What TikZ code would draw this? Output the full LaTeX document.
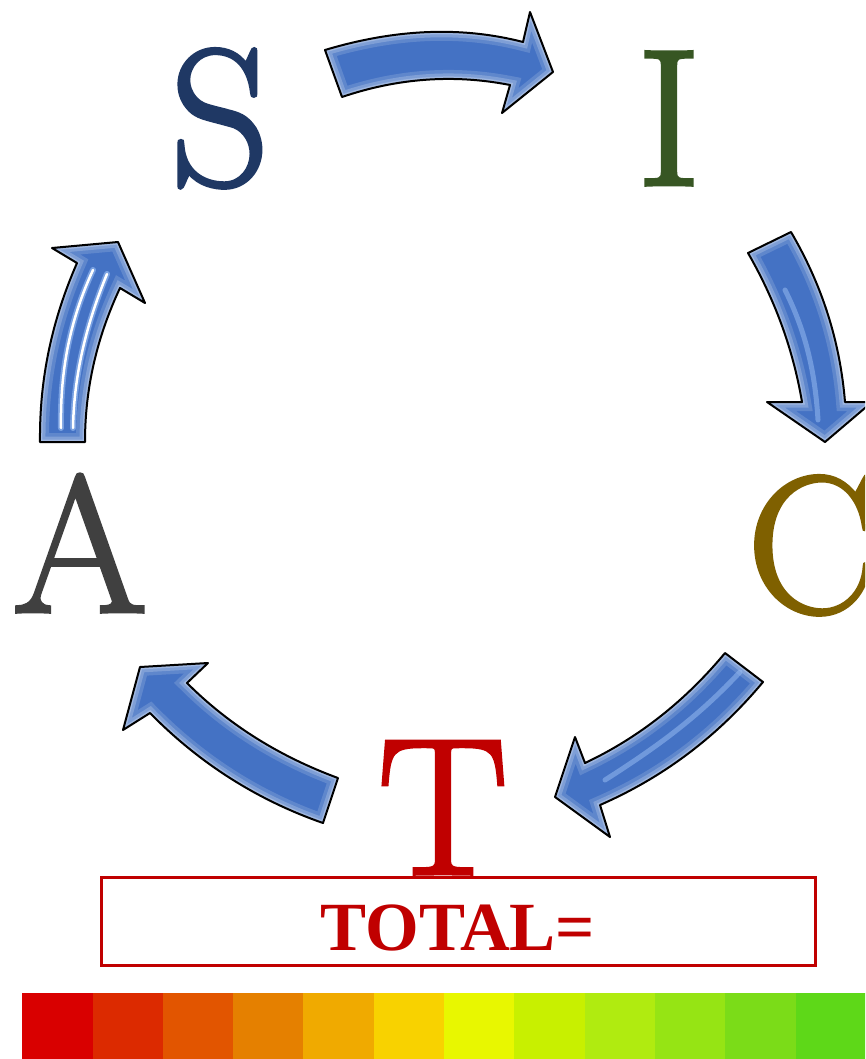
\documentclass[tikz,border=0pt]{standalone}
\usepackage{fontspec}
\newfontfamily\totalfont{Liberation Serif}
\newcommand{\heavy}[1]{\special{pdf:literal direct q 2 Tr 3.5 w 0 j}#1\special{pdf:literal direct Q 0 Tr}}
\definecolor{sblue}{HTML}{1F3864}
\definecolor{igreen}{HTML}{375623}
\definecolor{cbrown}{HTML}{7F6000}
\definecolor{agray}{HTML}{404040}
\definecolor{tred}{HTML}{C00000}
\definecolor{arrowblue}{HTML}{4472C4}
\definecolor{lightblue}{HTML}{9CC0F5}
\definecolor{b1}{HTML}{D90000}
\definecolor{b2}{HTML}{DC2A00}
\definecolor{b3}{HTML}{E25500}
\definecolor{b4}{HTML}{E58000}
\definecolor{b5}{HTML}{F0AA00}
\definecolor{b6}{HTML}{F8D200}
\definecolor{b7}{HTML}{E8F700}
\definecolor{b8}{HTML}{C8F000}
\definecolor{b9}{HTML}{B0EB10}
\definecolor{b10}{HTML}{96E414}
\definecolor{b11}{HTML}{7BDC18}
\definecolor{b12}{HTML}{5ED818}
\newcommand{\arrSI}{(325,50) .. controls (395,29) and (461,26) .. (523,42) -- (530,12) -- (553,72) -- (502,113) -- (510,85) .. controls (454,74) and (398,78) .. (342,97) -- cycle}
\newcommand{\arrIC}{(748,253) .. controls (775,300) and (793,349) .. (802,402) -- (767,402) -- (825,442) -- (872,402) -- (845,402) .. controls (840,341) and (822,285) .. (791,232) -- cycle}
\newcommand{\arrCT}{(725,653) .. controls (686,700) and (640,737) .. (585,763) -- (575,737) -- (555,797) -- (610,837) -- (600,805) .. controls (664,777) and (718,736) .. (763,682) -- cycle}
\newcommand{\arrTA}{(338,778) .. controls (281,757) and (230,726) .. (187,683) -- (208,663) -- (140,667) -- (123,730) -- (150,713) .. controls (199,763) and (257,800) .. (323,823) -- cycle}
\newcommand{\arrAS}{(40,442) .. controls (39.3,379) and (52,320) .. (77,263) -- (52,248) -- (118,242) -- (145,303) -- (120,288) .. controls (97,337) and (85,388) .. (85,442) -- cycle}
\newcommand{\glossyarrow}[1]{%
  \fill[arrowblue] #1;
  \begin{scope}
    \clip #1;
    \draw[white, opacity=0.15, line width=18pt] #1;
    \draw[white, opacity=0.2, line width=11pt] #1;
    \draw[white, opacity=0.25, line width=5pt] #1;
  \end{scope}
  \draw[black, line width=2pt, line join=round] #1;
}
\begin{document}
\begin{tikzpicture}[x=1pt,y=-1pt,
  bigletter/.style={inner sep=0pt, anchor=base, font=\fontsize{195}{195}\selectfont},
  barseg/.style={inner sep=0pt, minimum width=70.5pt, minimum height=66pt, anchor=north west}]
\useasboundingbox (0,0) rectangle (865,1059);
\clip (0,0) rectangle (865,1059);
\fill[white] (0,0) rectangle (865,1059);
% arrows
\glossyarrow{\arrSI}
\glossyarrow{\arrIC}
\glossyarrow{\arrCT}
\glossyarrow{\arrTA}
\glossyarrow{\arrAS}
% highlights
\draw[lightblue, opacity=0.6, line width=6pt, line cap=round] (93,270) .. controls (70,320) and (60,370) .. (61,428);
\draw[white, line width=2.5pt, line cap=round] (93,270) .. controls (70,320) and (60,370) .. (61,428);
\draw[lightblue, opacity=0.6, line width=6pt, line cap=round] (107,274) .. controls (86,325) and (74,375) .. (73,428);
\draw[white, line width=2.5pt, line cap=round] (107,274) .. controls (86,325) and (74,375) .. (73,428);
\draw[lightblue, opacity=0.5, line width=5pt, line cap=round] (785,290) .. controls (805,330) and (815,370) .. (818,420);
\draw[lightblue, opacity=0.5, line width=5pt, line cap=round] (740,672) .. controls (700,715) and (660,745) .. (605,780);
% letters
\node[bigletter, text=sblue] (S) at (220,185) {\heavy{S}};
\node[bigletter, text=igreen] (I) at (669,185) {\heavy{I}};
\node[bigletter, text=cbrown] (C) at (812,612) {\heavy{C}};
\node[bigletter, text=agray] (A) at (80,612) {\heavy{A}};
\node[bigletter, text=tred] (T) at (443,874) {\heavy{T}};
% total box
\node[draw=tred, line width=3pt, fill=white, minimum width=714pt, minimum height=88pt, inner sep=0pt] (box) at (458,921) {};
\node[inner sep=0pt, anchor=base, text=tred, font=\totalfont\bfseries\fontsize{69}{69}\selectfont] (total) at (458,950) {TOTAL=};
% colour bar
\foreach \i in {1,...,12} {
  \node[barseg, fill=b\i] (seg\i) at ({22+70.3*(\i-1)},993) {};
}
\end{tikzpicture}
\end{document}
